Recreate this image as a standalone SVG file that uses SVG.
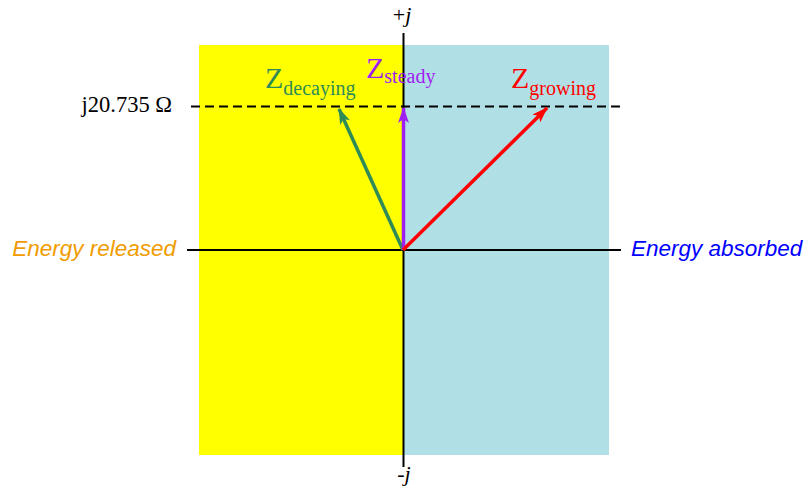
<svg xmlns="http://www.w3.org/2000/svg" width="807" height="489" viewBox="0 0 807 489">
<defs>
<style>
.serif{font-family:"Liberation Serif","Times New Roman",serif;}
.sans{font-family:"Liberation Sans",Arial,sans-serif;font-style:italic;font-size:22.5px;}
.axis{stroke:#000;stroke-width:2;fill:none;}
.vec{stroke-width:3.5;fill:none;}
</style>
<marker id="ahG" viewBox="0 0 16 11" refX="15" refY="5.5" markerWidth="16" markerHeight="11" markerUnits="userSpaceOnUse" orient="auto"><path d="M0,0 L16,5.5 L0,11 L4,5.5 Z" fill="#2e8b57"/></marker>
<marker id="ahP" viewBox="0 0 16 11" refX="15" refY="5.5" markerWidth="16" markerHeight="11" markerUnits="userSpaceOnUse" orient="auto"><path d="M0,0 L16,5.5 L0,11 L4,5.5 Z" fill="#a020f0"/></marker>
<marker id="ahR" viewBox="0 0 16 11" refX="15" refY="5.5" markerWidth="16" markerHeight="11" markerUnits="userSpaceOnUse" orient="auto"><path d="M0,0 L16,5.5 L0,11 L4,5.5 Z" fill="#ff0000"/></marker>
</defs>
<g id="background">
<rect x="199" y="45" width="204" height="410" fill="#ffff00"/>
<rect x="403" y="45" width="206" height="410" fill="#b0e0e6"/>
</g>
<g id="axes">
<line class="axis" x1="403.5" y1="33" x2="403.5" y2="467"/>
<line class="axis" x1="187" y1="250" x2="621" y2="250"/>
<line x1="191" y1="106.5" x2="622" y2="106.5" stroke="#000" stroke-width="2" stroke-dasharray="9,5"/>
</g>
<g id="connectors">
<line class="vec" x1="403" y1="250" x2="339" y2="109" stroke="#2e8b57" marker-end="url(#ahG)"/>
<line class="vec" x1="403.5" y1="250" x2="403.5" y2="108" stroke="#a020f0" marker-end="url(#ahP)"/>
<line class="vec" x1="403" y1="250" x2="547" y2="108" stroke="#ff0000" marker-end="url(#ahR)"/>
</g>
<g id="labels">
<text class="serif" x="402" y="22" font-size="22" text-anchor="middle">+<tspan font-style="italic">j</tspan></text>
<text class="serif" x="404" y="481" font-size="22" text-anchor="middle">-<tspan font-style="italic">j</tspan></text>
<text class="serif" x="172" y="112" font-size="22.5" text-anchor="end">j20.735 Ω</text>
<text class="sans" x="176" y="256" text-anchor="end" fill="#f09c00">Energy released</text>
<text class="sans" x="631" y="256" fill="#0000ff">Energy absorbed</text>
</g>
<g id="z-decaying">
<text class="serif" x="265" y="88" font-size="30" fill="#2e8b57">Z<tspan font-size="20" dy="7">decaying</tspan></text>
</g>
<g id="z-steady">
<text class="serif" x="366" y="78" font-size="30" fill="#a020f0">Z<tspan font-size="20" dy="5">steady</tspan></text>
</g>
<g id="z-growing">
<text class="serif" x="511" y="88" font-size="30" fill="#ff0000">Z<tspan font-size="20" dy="7">growing</tspan></text>
</g>
</svg>
